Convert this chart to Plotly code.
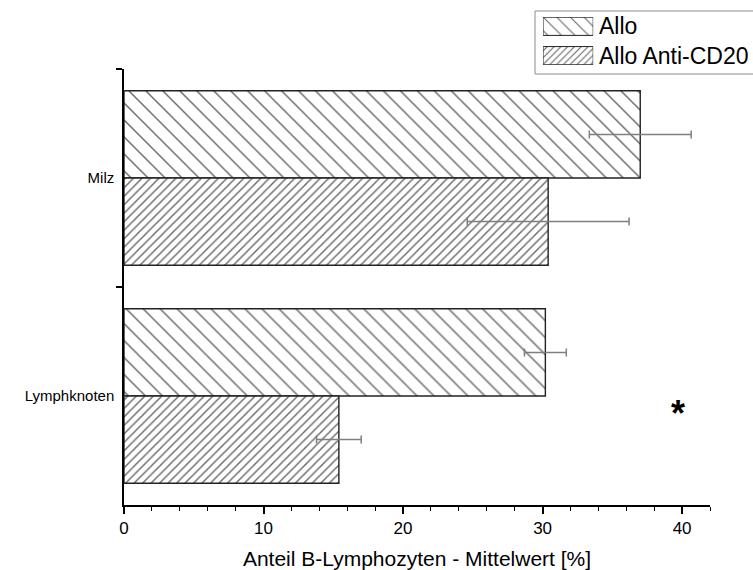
import plotly.graph_objects as go

# Anteil B-Lymphozyten (Mittelwert, %) je Organ und Gruppe
organs = ["Lymphknoten", "Milz"]
groups = ["Allo", "Allo Anti-CD20"]
allo_mean = [30.2, 37.0]
allo_err = [1.5, 3.65]
anti_mean = [15.4, 30.4]
anti_err = [1.6, 5.8]
x_title = "Anteil B-Lymphozyten - Mittelwert [%]"
star_text = "<b>*</b>"
star_pos = (39.7, -0.08)

FONT = "Arial, Liberation Sans, sans-serif"
EDGE = "#222222"
HATCH = "#6a6a6a"
ERR = "#7f7f7f"

# hatch styles per group
styles = {
    "Allo": dict(shape="\\", size=12, solidity=0.12),
    "Allo Anti-CD20": dict(shape="/", size=6, solidity=0.24),
}

fig = go.Figure()

# Allo sits in the upper half of each category band, Anti-CD20 in the lower half
for name, means, errs, off in [
    (groups[0], allo_mean, allo_err, 0.0),
    (groups[1], anti_mean, anti_err, -0.4),
]:
    st = styles[name]
    fig.add_trace(go.Bar(
        name=name, orientation="h", y=organs, x=means,
        offset=off, width=0.4, showlegend=False,
        marker=dict(color="white", line=dict(color=EDGE, width=1.4),
                    pattern=dict(shape=st["shape"], size=st["size"],
                                 solidity=st["solidity"], fgcolor=HATCH,
                                 bgcolor="white", fillmode="replace")),
        error_x=dict(type="data", array=errs, color=ERR, thickness=1.5, width=4),
    ))

# legend: a short hatched swatch per group on a small helper axis, text beside it
swatch_len = [1, 1]
legend_text_y = [0.9667, 0.9071]
for i, name in enumerate(groups):
    st = styles[name]
    fig.add_trace(go.Bar(
        orientation="h", y=[1 - i], x=[swatch_len[i]], width=0.62,
        xaxis="x2", yaxis="y2", showlegend=False, hoverinfo="skip",
        marker=dict(color="white", line=dict(color=EDGE, width=1),
                    pattern=dict(shape=st["shape"], size=st["size"] * 0.8,
                                 solidity=st["solidity"], fgcolor=HATCH,
                                 bgcolor="white", fillmode="replace")),
    ))
    fig.add_annotation(
        xref="paper", yref="paper", x=0.764, y=legend_text_y[i], text=name,
        showarrow=False, xanchor="left", yanchor="middle",
        font=dict(family=FONT, size=23, color="black"),
    )

fig.add_shape(type="rect", xref="paper", yref="paper",
              x0=0.664, x1=1.1, y0=0.8707, y1=0.9980,
              line=dict(color="#8c8c8c", width=1), fillcolor="rgba(0,0,0,0)")

fig.add_annotation(
    x=star_pos[0], y=star_pos[1], text=star_text, showarrow=False,
    font=dict(family=FONT, size=36, color="black"),
    xanchor="center", yanchor="middle",
)

fig.update_layout(
    width=753, height=570,
    margin=dict(l=124, r=10, t=10, b=65),
    paper_bgcolor="white", plot_bgcolor="white",
    barmode="overlay",
    font=dict(family=FONT, color="black"),
    xaxis=dict(
        domain=[0, 0.9467], range=[0, 42], automargin=False,
        showline=True, linecolor="black", linewidth=1.5,
        ticks="outside", ticklen=7, tickwidth=1.5, tickcolor="black",
        dtick=10, tick0=0, showgrid=False, zeroline=False,
        minor=dict(dtick=2, ticks="outside", ticklen=4, tickwidth=1.2, tickcolor="black"),
        tickfont=dict(size=17),
        title=dict(text=x_title, font=dict(size=21), standoff=14),
    ),
    yaxis=dict(
        domain=[0, 0.8808], type="category", automargin=False,
        categoryorder="array", categoryarray=organs, range=[-0.5, 1.5],
        showline=True, linecolor="black", linewidth=1.5,
        ticks="outside", tickson="boundaries", ticklen=6, tickwidth=1.5,
        tickcolor="black", showgrid=False, zeroline=False,
        tickfont=dict(size=15), ticklabelstandoff=5,
    ),
    xaxis2=dict(domain=[0.677, 0.758], range=[0, 1], visible=False, anchor="y2"),
    yaxis2=dict(domain=[0.8889, 0.9859], range=[-0.317, 1.317], visible=False, anchor="x2"),
)

fig.write_html("out.html")
